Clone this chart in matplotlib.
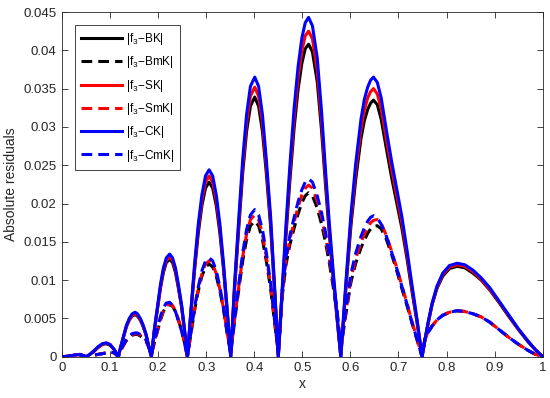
import matplotlib
matplotlib.use('Agg')
import matplotlib.pyplot as plt

plt.rcParams['font.family'] = ['Liberation Sans', 'DejaVu Sans']
plt.rcParams['mathtext.fontset'] = 'custom'
plt.rcParams['mathtext.rm'] = 'Liberation Sans'
plt.rcParams['mathtext.it'] = 'Liberation Sans'

# x positions (denser around each hump)
x = [0, 0.0125, 0.025, 0.0375, 0.05,
     0.058, 0.067, 0.075, 0.084, 0.092, 0.100, 0.109, 0.117,
     0.123, 0.129, 0.134, 0.140, 0.146, 0.152, 0.157, 0.163, 0.169, 0.175, 0.180, 0.186,
     0.192, 0.199, 0.205, 0.211, 0.217, 0.224, 0.230, 0.236, 0.242, 0.249, 0.255, 0.261,
     0.2685, 0.276, 0.2835, 0.291, 0.2985, 0.306, 0.3135, 0.321, 0.3285, 0.336, 0.3435, 0.351,
     0.359, 0.368, 0.376, 0.384, 0.392, 0.401, 0.409, 0.417, 0.425, 0.434, 0.442, 0.45,
     0.458, 0.466, 0.474, 0.483, 0.491, 0.499, 0.506, 0.513, 0.521, 0.531, 0.540, 0.548,
     0.556, 0.564, 0.572, 0.58,
     0.59, 0.601, 0.611, 0.622, 0.629, 0.636, 0.642, 0.648, 0.656, 0.664, 0.675, 0.686,
     0.697, 0.707, 0.718, 0.728, 0.739, 0.749,
     0.755, 0.762, 0.77, 0.78, 0.792, 0.806, 0.822, 0.838, 0.855, 0.872, 0.89, 0.91,
     0.93, 0.95, 0.97, 0.985, 1.0]

bk = [0, 0.00005, 0.0002, 0.0003, 0,
      0.0003, 0.0007, 0.0012, 0.0016, 0.0017, 0.0015, 0.0009, 0,
      0.0014, 0.0028, 0.0039, 0.0048, 0.0053, 0.0055, 0.0053, 0.0048, 0.0039, 0.0028, 0.0014, 0,
      0.0033, 0.0064, 0.0090, 0.0110, 0.0123, 0.0127, 0.0123, 0.0110, 0.0090, 0.0064, 0.0033, 0,
      0.0059, 0.0114, 0.0161, 0.0197, 0.0220, 0.0228, 0.0220, 0.0197, 0.0161, 0.0114, 0.0059, 0,
      0.0088, 0.0170, 0.0240, 0.0294, 0.0327, 0.0339, 0.0327, 0.0294, 0.0240, 0.0170, 0.0088, 0,
      0.0081, 0.0158, 0.0229, 0.0299, 0.0348, 0.0383, 0.0402, 0.0408, 0.0398, 0.0359, 0.0295, 0.0226,
      0.0161, 0.0104, 0.0051, 0,
      0.0084, 0.0170, 0.0231, 0.0285, 0.0308, 0.0323, 0.0331, 0.0335, 0.0329, 0.0310, 0.0271, 0.0233,
      0.0199, 0.0168, 0.0127, 0.0086, 0.0043, 0,
      0.0021, 0.0044, 0.0068, 0.0089, 0.0105, 0.0115, 0.0118, 0.0116, 0.0109, 0.0100, 0.0087, 0.0070,
      0.0052, 0.0035, 0.0019, 0.0009, 0]

bmk = [0, 0.00005, 0.00015, 0.00025, 0,
       0.0001, 0.0002, 0.0003, 0.0004, 0.0005, 0.0006, 0.0005, 0,
       0.0009, 0.0016, 0.0021, 0.0025, 0.0028, 0.0029, 0.0029, 0.0027, 0.0024, 0.0020, 0.0013, 0.0003,
       0.0018, 0.0034, 0.0048, 0.0059, 0.0066, 0.0068, 0.0066, 0.0059, 0.0048, 0.0034, 0.0018, 0,
       0.0031, 0.0061, 0.0086, 0.0105, 0.0117, 0.0121, 0.0117, 0.0105, 0.0086, 0.0061, 0.0031, 0.0004,
       0.0046, 0.0089, 0.0125, 0.0153, 0.0171, 0.0177, 0.0171, 0.0153, 0.0125, 0.0089, 0.0046, 0.0005,
       0.0078, 0.0120, 0.0146, 0.0168, 0.0186, 0.0201, 0.0210, 0.0214, 0.0210, 0.0194, 0.0173, 0.0150,
       0.0123, 0.0092, 0.0057, 0.001,
       0.0053, 0.0097, 0.0122, 0.0142, 0.0152, 0.0161, 0.0167, 0.0170, 0.0171, 0.0167, 0.0153, 0.0133,
       0.0111, 0.0089, 0.0066, 0.0044, 0.0021, 0,
       0.0023, 0.0032, 0.0040, 0.0048, 0.0054, 0.0058, 0.0060, 0.0059, 0.0056, 0.0052, 0.0045, 0.0035,
       0.0025, 0.0016, 0.0008, 0.0003, 0]

sk = [0, 0.00005, 0.0002, 0.0003, 0,
      0.0003, 0.0008, 0.0012, 0.0016, 0.0018, 0.0016, 0.0009, 0,
      0.0015, 0.0028, 0.0040, 0.0048, 0.0054, 0.0056, 0.0054, 0.0048, 0.0040, 0.0028, 0.0015, 0,
      0.0034, 0.0065, 0.0092, 0.0113, 0.0126, 0.0130, 0.0126, 0.0113, 0.0092, 0.0065, 0.0034, 0,
      0.0061, 0.0118, 0.0167, 0.0204, 0.0228, 0.0236, 0.0228, 0.0204, 0.0167, 0.0118, 0.0061, 0,
      0.0091, 0.0176, 0.0249, 0.0305, 0.0340, 0.0352, 0.0340, 0.0305, 0.0249, 0.0176, 0.0091, 0,
      0.0084, 0.0165, 0.0239, 0.0312, 0.0363, 0.0399, 0.0419, 0.0425, 0.0415, 0.0374, 0.0307, 0.0235,
      0.0168, 0.0108, 0.0053, 0,
      0.0088, 0.0177, 0.0242, 0.0297, 0.0322, 0.0338, 0.0346, 0.0350, 0.0343, 0.0324, 0.0283, 0.0244,
      0.0208, 0.0175, 0.0132, 0.0090, 0.0045, 0,
      0.0022, 0.0045, 0.0069, 0.0090, 0.0107, 0.0117, 0.0120, 0.0118, 0.0111, 0.0101, 0.0088, 0.0071,
      0.0053, 0.0035, 0.0020, 0.0009, 0]

smk = [0, 0.00005, 0.00015, 0.00025, 0,
       0.0001, 0.0002, 0.0003, 0.0004, 0.0005, 0.0006, 0.0005, 0,
       0.0009, 0.0016, 0.0022, 0.0026, 0.0029, 0.0030, 0.0030, 0.0028, 0.0025, 0.0021, 0.0014, 0.0003,
       0.0018, 0.0035, 0.0049, 0.0060, 0.0067, 0.0069, 0.0067, 0.0060, 0.0049, 0.0035, 0.0018, 0,
       0.0032, 0.0063, 0.0088, 0.0108, 0.0121, 0.0125, 0.0121, 0.0108, 0.0088, 0.0063, 0.0032, 0.0004,
       0.0048, 0.0093, 0.0131, 0.0160, 0.0179, 0.0185, 0.0179, 0.0160, 0.0131, 0.0093, 0.0048, 0.0005,
       0.0082, 0.0126, 0.0153, 0.0176, 0.0195, 0.0211, 0.0220, 0.0224, 0.0220, 0.0203, 0.0182, 0.0157,
       0.0128, 0.0097, 0.0060, 0.001,
       0.0056, 0.0102, 0.0128, 0.0149, 0.0160, 0.0169, 0.0175, 0.0178, 0.0179, 0.0174, 0.0158, 0.0137,
       0.0115, 0.0093, 0.0069, 0.0046, 0.0023, 0,
       0.0023, 0.0032, 0.0040, 0.0048, 0.0054, 0.0058, 0.0060, 0.0059, 0.0056, 0.0052, 0.0045, 0.0035,
       0.0025, 0.0016, 0.0008, 0.0003, 0]

ck = [0, 0.00005, 0.0002, 0.0003, 0,
      0.0003, 0.0008, 0.0013, 0.0017, 0.0018, 0.0016, 0.0009, 0,
      0.0015, 0.0029, 0.0041, 0.0050, 0.0056, 0.0058, 0.0056, 0.0050, 0.0041, 0.0029, 0.0015, 0,
      0.0035, 0.0067, 0.0095, 0.0116, 0.0129, 0.0134, 0.0129, 0.0116, 0.0095, 0.0067, 0.0035, 0,
      0.0063, 0.0122, 0.0173, 0.0211, 0.0236, 0.0244, 0.0236, 0.0211, 0.0173, 0.0122, 0.0063, 0,
      0.0095, 0.0183, 0.0258, 0.0316, 0.0353, 0.0365, 0.0353, 0.0316, 0.0258, 0.0183, 0.0095, 0,
      0.0088, 0.0172, 0.0249, 0.0325, 0.0378, 0.0416, 0.0436, 0.0443, 0.0432, 0.0390, 0.0320, 0.0245,
      0.0175, 0.0113, 0.0055, 0,
      0.0092, 0.0185, 0.0252, 0.0310, 0.0336, 0.0352, 0.0361, 0.0365, 0.0358, 0.0338, 0.0295, 0.0254,
      0.0217, 0.0183, 0.0138, 0.0094, 0.0047, 0,
      0.0022, 0.0046, 0.0070, 0.0092, 0.0109, 0.0119, 0.0122, 0.0120, 0.0113, 0.0103, 0.0090, 0.0072,
      0.0054, 0.0036, 0.0020, 0.0009, 0]

cmk = [0, 0.00005, 0.00015, 0.00025, 0,
       0.0001, 0.0002, 0.0003, 0.0004, 0.0005, 0.0006, 0.0005, 0,
       0.0010, 0.0017, 0.0023, 0.0027, 0.0030, 0.0031, 0.0031, 0.0029, 0.0026, 0.0022, 0.0014, 0.0003,
       0.0020, 0.0038, 0.0053, 0.0064, 0.0070, 0.0071, 0.0067, 0.0059, 0.0047, 0.0033, 0.0017, 0,
       0.0033, 0.0065, 0.0091, 0.0112, 0.0125, 0.0129, 0.0125, 0.0112, 0.0091, 0.0065, 0.0033, 0.0004,
       0.0050, 0.0096, 0.0136, 0.0166, 0.0185, 0.0192, 0.0185, 0.0166, 0.0136, 0.0096, 0.0050, 0.0005,
       0.0085, 0.0130, 0.0158, 0.0182, 0.0202, 0.0218, 0.0228, 0.0232, 0.0228, 0.0210, 0.0188, 0.0163,
       0.0133, 0.0100, 0.0062, 0.001,
       0.0060, 0.0108, 0.0135, 0.0157, 0.0168, 0.0177, 0.0182, 0.0184, 0.0181, 0.0173, 0.0157, 0.0136,
       0.0114, 0.0092, 0.0068, 0.0045, 0.0022, 0,
       0.0023, 0.0032, 0.0040, 0.0048, 0.0054, 0.0058, 0.0060, 0.0059, 0.0056, 0.0052, 0.0045, 0.0035,
       0.0025, 0.0016, 0.0008, 0.0003, 0]

labels = ['|f$_3$\u2212BK|', '|f$_3$\u2212BmK|', '|f$_3$\u2212SK|',
          '|f$_3$\u2212SmK|', '|f$_3$\u2212CK|', '|f$_3$\u2212CmK|']

fig = plt.figure(figsize=(5.5, 3.98), dpi=100)
ax = fig.add_axes([0.1127, 0.1038, 0.874, 0.866])

lw = 2.2
dash = (3.5, 2.0)
style = dict(lw=lw, solid_joinstyle='round', dash_joinstyle='round')
ax.plot(x, bk, color='black', label=labels[0], **style)
ax.plot(x, bmk, color='black', dashes=dash, label=labels[1], **style)
ax.plot(x, sk, color='red', label=labels[2], **style)
ax.plot(x, smk, color='red', dashes=dash, label=labels[3], **style)
ax.plot(x, ck, color='blue', label=labels[4], **style)
ax.plot(x, cmk, color='blue', dashes=dash, label=labels[5], **style)

ax.set_xlim(0, 1)
ax.set_ylim(0, 0.045)
ax.set_xticks([0, 0.1, 0.2, 0.3, 0.4, 0.5, 0.6, 0.7, 0.8, 0.9, 1])
ax.set_xticklabels(['0', '0.1', '0.2', '0.3', '0.4', '0.5', '0.6', '0.7', '0.8', '0.9', '1'])
ax.set_yticks([0, 0.005, 0.01, 0.015, 0.02, 0.025, 0.03, 0.035, 0.04, 0.045])
ax.set_yticklabels(['0', '0.005', '0.01', '0.015', '0.02', '0.025', '0.03', '0.035', '0.04', '0.045'])

for s in ax.spines.values():
    s.set_color('#262626')
    s.set_linewidth(0.6)
ax.tick_params(direction='in', length=4, width=0.6, colors='#262626',
               labelsize=9.5, top=True, right=True, pad=4)
ax.set_xlabel('x', fontsize=10, color='#262626', labelpad=2)
ax.set_ylabel('Absolute residuals', fontsize=10, color='#262626', labelpad=4)

leg = ax.legend(loc='upper left', bbox_to_anchor=(0.027, 0.962), fontsize=8.5,
                handlelength=3.5, labelspacing=0.62, handletextpad=0.3,
                borderpad=0.5, borderaxespad=0, fancybox=False, framealpha=1)
leg.get_frame().set_edgecolor('#262626')
leg.get_frame().set_linewidth(0.6)

fig.savefig('out.png', dpi=100)
